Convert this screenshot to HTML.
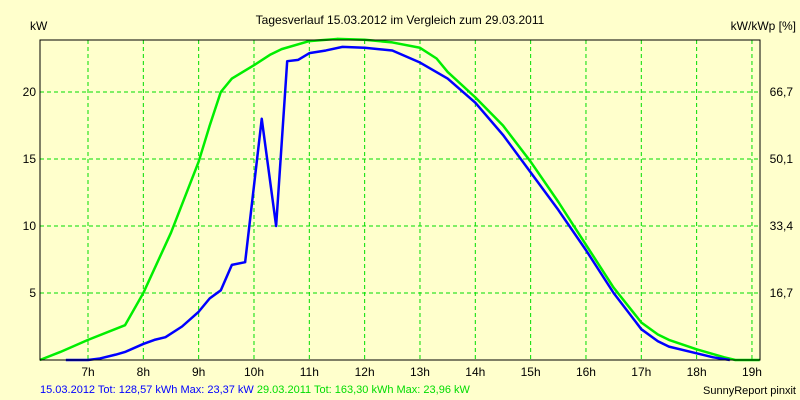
<!DOCTYPE html>
<html><head><meta charset="utf-8"><style>
body{margin:0;background:#ffffcc}
svg{display:block;font-family:"Liberation Sans",sans-serif}
</style></head><body>
<svg id="c" width="800" height="400">
<rect width="800" height="400" fill="#ffffcc"/>
<text x="400" y="24" font-size="12" text-anchor="middle">Tagesverlauf 15.03.2012 im Vergleich zum 29.03.2011</text>
<text x="30" y="30" font-size="12">kW</text>
<text x="796" y="30" font-size="12" text-anchor="end">kW/kWp [%]</text>
<g id="grid"></g><g id="series"></g><g id="labels"></g>
<rect x="40" y="40" width="720" height="320" fill="none" stroke="#000" stroke-width="1"/>
<text x="40" y="393" font-size="11"><tspan fill="#0000ff">15.03.2012 Tot: 128,57 kWh Max: 23,37 kW </tspan><tspan fill="#00dd00">29.03.2011 Tot: 163,30 kWh Max: 23,96 kW</tspan></text>
<text x="796" y="394" font-size="11" text-anchor="end">SunnyReport pinxit</text>
</svg>
<script>
const xTicks=[7,8,9,10,11,12,13,14,15,16,17,18,19];
const yTicks=[5,10,15,20];
const y2Labels=["16,7","33,4","50,1","66,7"];
const greenX=[6.13,6.5,7,7.67,8,8.5,9,9.2,9.4,9.6,10,10.3,10.5,11,11.5,12,12.5,13,13.3,13.5,14,14.5,15,15.5,16,16.5,17,17.3,17.5,18,18.5,18.7,19.14];
const greenY=[0,0.6,1.5,2.6,5,9.5,14.8,17.5,20,21,22,22.8,23.2,23.8,23.96,23.9,23.7,23.3,22.5,21.5,19.6,17.5,14.8,11.8,8.6,5.4,2.8,1.9,1.5,0.8,0.2,0,0];
const blueX=[6.6,7,7.2,7.5,7.67,8,8.2,8.4,8.7,9,9.2,9.4,9.6,9.84,10.14,10.4,10.6,10.8,11,11.3,11.6,12,12.5,13,13.5,14,14.5,15,15.5,16,16.5,17,17.3,17.5,18,18.3,18.6];
const blueY=[0,0,0.1,0.4,0.6,1.2,1.5,1.7,2.5,3.6,4.6,5.2,7.1,7.3,18,10,22.3,22.4,22.9,23.1,23.37,23.3,23.1,22.2,21,19.2,16.8,14,11.2,8.2,5,2.3,1.4,1.0,0.5,0.2,0];
const X=h=>88+(h-7)*55.33;
const Y=v=>360-v*13.4;
const ns="http://www.w3.org/2000/svg";
function mk(t,a,p){const e=document.createElementNS(ns,t);for(const k in a)e.setAttribute(k,a[k]);p.appendChild(e);return e;}
const g=document.getElementById('grid'),L=document.getElementById('labels'),S=document.getElementById('series');
xTicks.forEach(h=>{
 const l=mk('line',{x1:X(h),x2:X(h),y1:40,y2:360,stroke:'#00dd00','stroke-dasharray':'4,3'},g);
 
 
 const t=mk('text',{x:X(h),y:376,'font-size':12,'text-anchor':'middle'},L);t.textContent=h+'h';
 
 
});
yTicks.forEach((v,i)=>{
 const l=mk('line',{x1:40,x2:760,y1:Y(v),y2:Y(v),stroke:'#00dd00','stroke-dasharray':'4,3'},g);
 
 
 const t=mk('text',{x:36,y:Y(v)+4,'font-size':12,'text-anchor':'end'},L);t.textContent=v;
 
 
 const t2=mk('text',{x:793,y:Y(v)+4,'font-size':12,'text-anchor':'end'},L);t2.textContent=y2Labels[i];
 
 
});
function line(xs,ys,c,n){const p=mk('polyline',{points:xs.map((x,i)=>X(x)+','+Y(ys[i])).join(' '),fill:'none',stroke:c,'stroke-width':2.5,'stroke-linejoin':'round'},S);
 
 }
line(greenX,greenY,'#00ee00','series-2011-line');
line(blueX,blueY,'#0000ff','series-2012-line');
</script>
</body></html>
